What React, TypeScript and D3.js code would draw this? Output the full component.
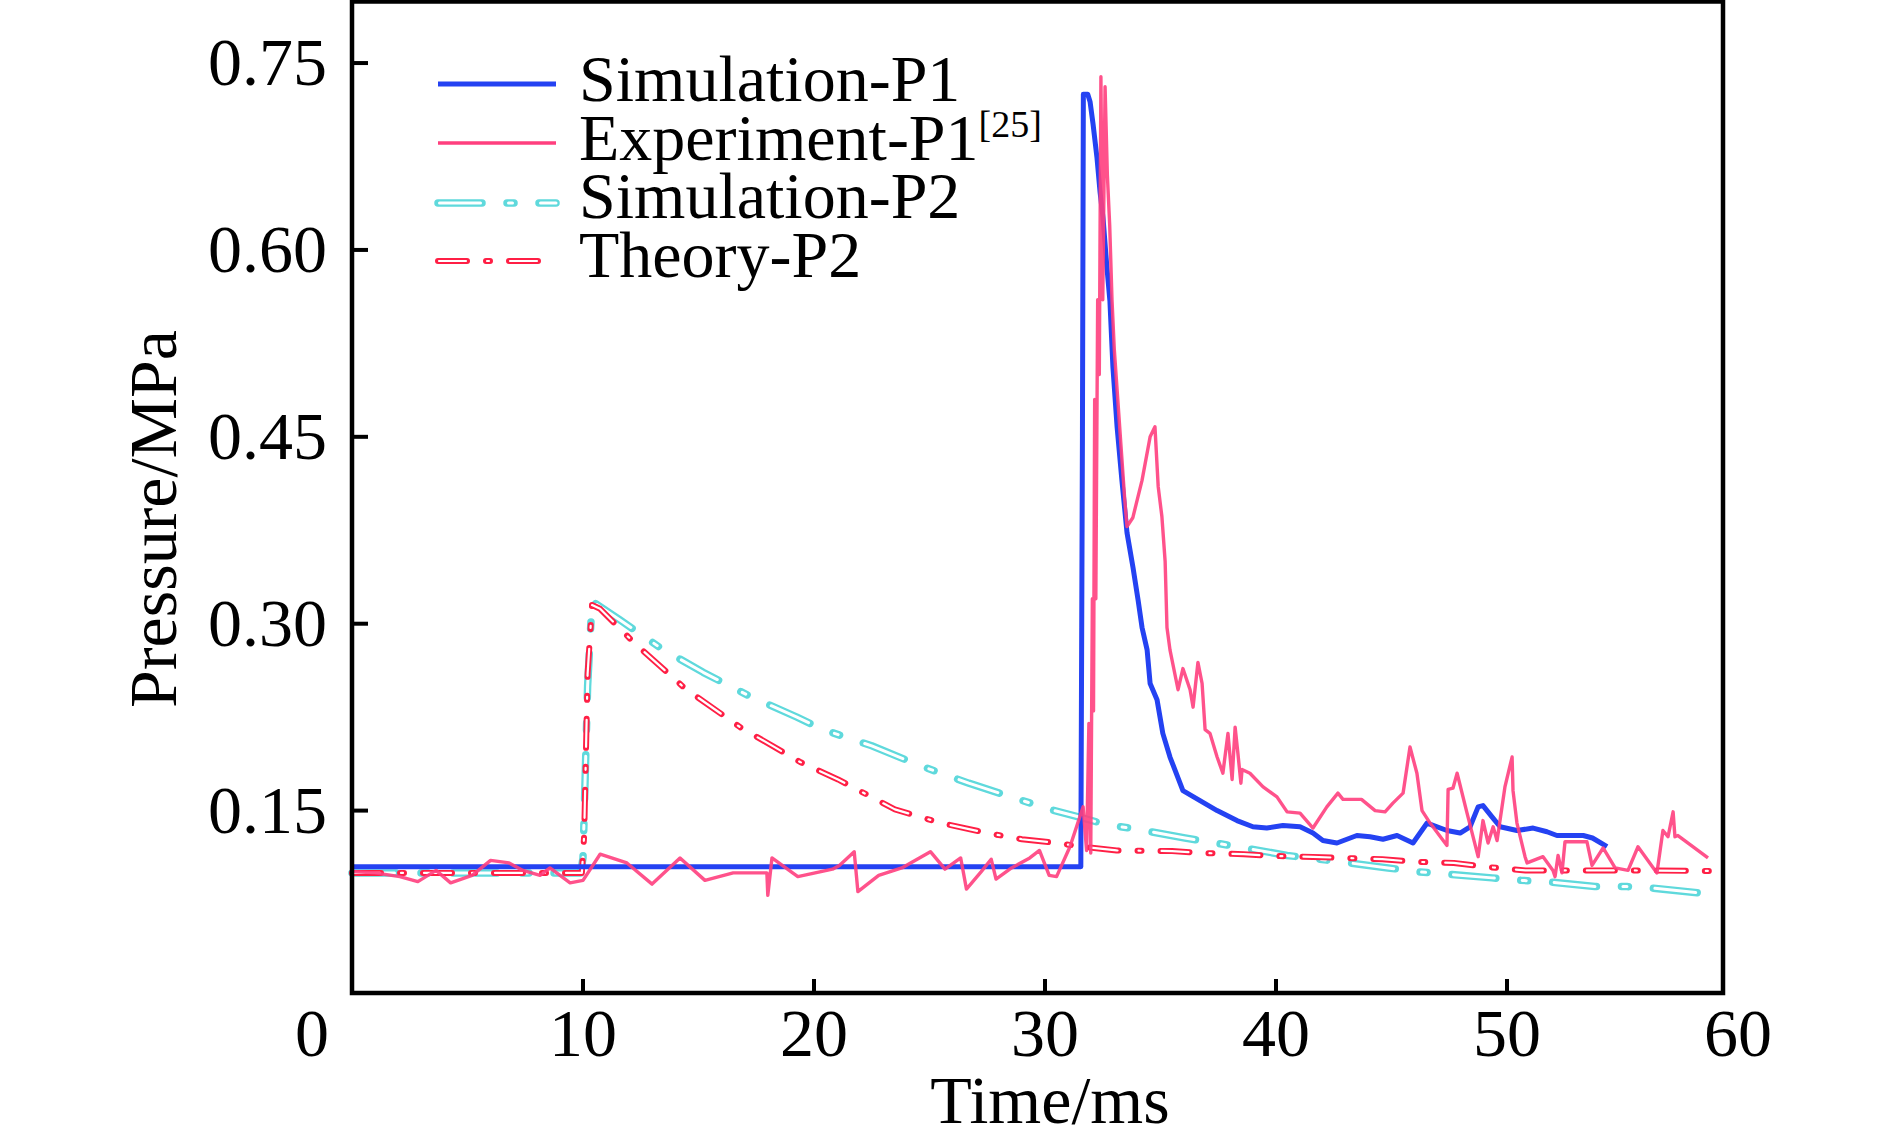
import React from "react";
import * as d3 from "d3";

type Pt = [number, number];

const xTicks = [10, 20, 30, 40, 50, 60];
const yTicks = [0.15, 0.3, 0.45, 0.6, 0.75];

const simP1: Pt[] = [
  [0, 0.105], [31.55, 0.105], [31.62, 0.45], [31.66, 0.725], [31.85, 0.725], [31.95, 0.719],
  [32.08, 0.701], [32.25, 0.674], [32.38, 0.647], [32.51, 0.626], [32.68, 0.586], [32.81, 0.559],
  [32.94, 0.506], [33.12, 0.458], [33.33, 0.415], [33.55, 0.373], [33.81, 0.345], [34.03, 0.319],
  [34.2, 0.297], [34.42, 0.279], [34.55, 0.252], [34.85, 0.239], [35.1, 0.212], [35.41, 0.193],
  [35.97, 0.166], [36.71, 0.158], [37.45, 0.15], [38.31, 0.142], [39.0, 0.137], [39.6, 0.136],
  [40.3, 0.138], [41.04, 0.137], [41.6, 0.132], [42.03, 0.126], [42.64, 0.124], [43.5, 0.13],
  [44.07, 0.129], [44.63, 0.127], [45.24, 0.13], [45.93, 0.124], [46.54, 0.14], [47.4, 0.134],
  [47.97, 0.132], [48.4, 0.137], [48.75, 0.153], [48.96, 0.154], [49.35, 0.145], [49.7, 0.137],
  [50.43, 0.134], [51.13, 0.136], [51.73, 0.133], [52.16, 0.13], [53.3, 0.13], [53.7, 0.128],
  [54.33, 0.121],
];

const expP1: Pt[] = [
  [0, 0.101], [1.0, 0.1], [2.07, 0.097], [2.85, 0.093], [3.64, 0.102], [4.27, 0.092], [5.2, 0.098],
  [6.0, 0.11], [6.8, 0.108], [7.4, 0.102], [8.14, 0.098], [8.57, 0.104], [9.44, 0.092], [10.0, 0.094],
  [10.74, 0.115], [11.9, 0.108], [12.99, 0.091], [14.2, 0.112], [15.28, 0.094], [16.5, 0.1],
  [17.96, 0.1], [18.0, 0.082], [18.18, 0.112], [19.3, 0.097], [20.8, 0.103], [21.1, 0.106],
  [21.74, 0.117], [21.9, 0.085], [22.8, 0.098], [23.8, 0.104], [25.04, 0.117], [25.67, 0.103],
  [26.35, 0.112], [26.6, 0.087], [27.24, 0.101], [27.67, 0.111], [27.88, 0.095], [28.55, 0.104],
  [29.34, 0.112], [29.76, 0.118], [30.18, 0.098], [30.5, 0.097], [31.08, 0.121], [31.65, 0.153],
  [31.8, 0.118], [31.9, 0.22], [31.98, 0.116], [32.05, 0.32], [32.1, 0.23], [32.15, 0.48],
  [32.2, 0.32], [32.28, 0.56], [32.35, 0.5], [32.42, 0.739], [32.5, 0.56], [32.6, 0.731],
  [32.7, 0.66], [32.8, 0.62], [32.9, 0.56], [33.0, 0.52], [33.15, 0.48], [33.3, 0.44],
  [33.45, 0.4], [33.55, 0.378], [33.8, 0.385], [34.2, 0.415], [34.55, 0.45], [34.76, 0.458],
  [34.9, 0.41], [35.06, 0.386], [35.2, 0.35], [35.28, 0.297], [35.41, 0.279], [35.76, 0.247],
  [35.97, 0.264], [36.28, 0.247], [36.41, 0.233], [36.62, 0.269], [36.8, 0.252], [36.93, 0.215],
  [37.14, 0.212], [37.45, 0.193], [37.7, 0.18], [37.92, 0.212], [38.1, 0.175], [38.23, 0.217],
  [38.35, 0.196], [38.48, 0.172], [38.53, 0.183], [38.87, 0.18], [39.44, 0.169], [40.04, 0.161],
  [40.48, 0.149], [41.04, 0.148], [41.6, 0.136], [42.2, 0.153], [42.68, 0.164], [42.9, 0.159],
  [43.7, 0.159], [44.29, 0.15], [44.72, 0.149], [45.06, 0.156], [45.5, 0.164], [45.8, 0.201],
  [46.1, 0.18], [46.32, 0.15], [46.67, 0.14], [47.4, 0.122], [47.45, 0.167], [47.66, 0.168],
  [47.84, 0.18], [48.27, 0.148], [48.75, 0.113], [48.96, 0.142], [49.18, 0.124], [49.4, 0.137],
  [49.57, 0.126], [49.91, 0.169], [50.22, 0.193], [50.26, 0.166], [50.43, 0.14], [50.78, 0.113],
  [50.87, 0.108], [51.56, 0.113], [51.99, 0.102], [52.08, 0.097], [52.21, 0.114], [52.38, 0.1],
  [52.51, 0.125], [53.46, 0.125], [53.68, 0.106], [54.16, 0.12], [54.68, 0.104], [55.24, 0.102],
  [55.67, 0.121], [56.49, 0.1], [56.75, 0.134], [56.97, 0.129], [57.19, 0.149], [57.27, 0.129],
  [57.4, 0.13], [58.7, 0.112],
];

const simP2: Pt[] = [
  [0, 0.1], [9.9, 0.1], [10.0, 0.112], [10.2, 0.25], [10.39, 0.318], [11.6, 0.303], [13.4, 0.28],
  [15.2, 0.261], [17.2, 0.242], [19.26, 0.225], [20.4, 0.215], [22.5, 0.202], [24.6, 0.186],
  [26.7, 0.172], [28.7, 0.16], [30.2, 0.151], [31.65, 0.144], [32.6, 0.139], [34.0, 0.135],
  [36.06, 0.128], [38.35, 0.121], [40.48, 0.114], [42.77, 0.109], [44.85, 0.104], [46.1, 0.101],
  [47.4, 0.099], [49.35, 0.096], [50.6, 0.094], [51.7, 0.093], [53.8, 0.089], [55.2, 0.089],
  [56.2, 0.088], [58.3, 0.084],
];

const theoryP2: Pt[] = [
  [0, 0.1], [9.95, 0.1], [10.05, 0.13], [10.2, 0.26], [10.39, 0.315], [10.74, 0.312], [12.25, 0.284],
  [14.42, 0.248], [16.8, 0.217], [19.4, 0.189], [21.04, 0.175], [23.5, 0.151], [25.5, 0.14],
  [27.5, 0.132], [29.0, 0.127], [30.5, 0.124], [31.6, 0.121], [33.1, 0.118], [35.5, 0.1175],
  [36.8, 0.116], [38.6, 0.115], [39.9, 0.1136], [41.6, 0.1128], [42.9, 0.112], [44.6, 0.111],
  [45.9, 0.109], [47.7, 0.108], [49.0, 0.105], [50.8, 0.102], [52.1, 0.102], [55.1, 0.102],
  [59.35, 0.1015],
];

const legendLabels = ["Simulation-P1", "Experiment-P1", "Simulation-P2", "Theory-P2"];

const BLUE = "#2442f2";
const PINK = "#ff3f7e";
const CYAN = "#5fd9dc";
const RED = "#ff1f45";
const FONT = "'Liberation Serif', 'Times New Roman', Times, serif";

const W = 1890;
const H = 1141;
const L = 352;
const R = 1723;
const T = 1.5;
const B = 993;

const x = d3.scaleLinear().domain([0, 59.35]).range([L, R]);
const y = d3.scaleLinear().domain([0.0036, 0.7994]).range([B, T]);
const line = d3.line<Pt>().x((d) => x(d[0])).y((d) => y(d[1]));

function Hollow(props: { d: string; color: string; outer: number; inner: number; dash: number[]; inset: number }) {
  const { d, color, outer, inner, dash, inset } = props;
  const innerDash = [dash[0] - 2 * inset, dash[1] + 2 * inset, dash[2] - 2 * inset, dash[3] + 2 * inset];
  return (
    <g fill="none">
      <path d={d} stroke={color} strokeWidth={outer} strokeDasharray={dash.join(" ")} strokeLinejoin="round" strokeLinecap="round" />
      <path d={d} stroke="#ffffff" strokeWidth={inner} strokeDasharray={innerDash.join(" ")} strokeDashoffset={-inset} strokeLinejoin="round" strokeLinecap="round" />
    </g>
  );
}

const CYAN_DASH = [44, 25, 7, 25];
const RED_DASH = [29, 19, 4, 19];

export default function App() {
  const legendY = [101, 160, 218, 277];
  const lx0 = 438;
  const lx1 = 556;
  return (
    <div style={{ position: "absolute", left: 0, top: 0 }}>
      <svg width={W} height={H} viewBox={`0 0 ${W} ${H}`} style={{ display: "block", background: "#fff" }}>
        <rect width={W} height={H} fill="#fff" />
        {/* data lines */}
        <Hollow d={line(simP2) || ""} color={CYAN} outer={7.5} inner={3} dash={CYAN_DASH} inset={1.5} />
        <Hollow d={line(theoryP2) || ""} color={RED} outer={6} inner={2.2} dash={RED_DASH} inset={1} />
        <path d={line(simP1) || ""} fill="none" stroke={BLUE} strokeWidth={5} strokeLinejoin="round" />
        <path d={line(expP1) || ""} fill="none" stroke={PINK} strokeWidth={3.4} strokeLinejoin="round" opacity={0.9} />

        {/* frame */}
        <rect x={L} y={T} width={R - L} height={B - T} fill="none" stroke="#000" strokeWidth={4.5} />
        {yTicks.map((v) => (
          <g key={"y" + v}>
            <line x1={L} x2={L + 16} y1={y(v)} y2={y(v)} stroke="#000" strokeWidth={4} />
            <text x={327} y={y(v) + 22} textAnchor="end" fontFamily={FONT} fontSize={68} fill="#000">
              {v.toFixed(2)}
            </text>
          </g>
        ))}
        {xTicks.map((v) => (
          <g key={"x" + v}>
            {x(v) < R - 5 && <line x1={x(v)} x2={x(v)} y1={B} y2={B - 14} stroke="#000" strokeWidth={4} />}
            <text x={x(v)} y={1056} textAnchor="middle" fontFamily={FONT} fontSize={68} fill="#000">
              {v}
            </text>
          </g>
        ))}
        <text x={x(0) - 40} y={1056} textAnchor="middle" fontFamily={FONT} fontSize={68} fill="#000">0</text>

        {/* axis titles */}
        <text x={1050} y={1123} textAnchor="middle" fontFamily={FONT} fontSize={68} fill="#000">Time/ms</text>
        <text transform="translate(176,519) rotate(-90)" textAnchor="middle" fontFamily={FONT} fontSize={68} fill="#000">
          Pressure/MPa
        </text>

        {/* legend */}
        <line x1={lx0} x2={lx1} y1={legendY[0] - 17} y2={legendY[0] - 17} stroke={BLUE} strokeWidth={5} />
        <line x1={lx0} x2={lx1} y1={legendY[1] - 17} y2={legendY[1] - 17} stroke={PINK} strokeWidth={3.4} />
        <Hollow d={`M${lx0},${legendY[2] - 15}H${lx1}`} color={CYAN} outer={7.5} inner={3} dash={CYAN_DASH} inset={1.5} />
        <Hollow d={`M${lx0},${legendY[3] - 16}H${lx0 + 104}`} color={RED} outer={6} inner={2.2} dash={RED_DASH} inset={1} />
        {legendLabels.map((s, i) => (
          <text key={s} x={579} y={legendY[i]} fontFamily={FONT} fontSize={66} fill="#000">
            {s}
            {i === 1 && (
              <tspan fontSize={38} dy={-23}>[25]</tspan>
            )}
          </text>
        ))}
      </svg>
    </div>
  );
}
